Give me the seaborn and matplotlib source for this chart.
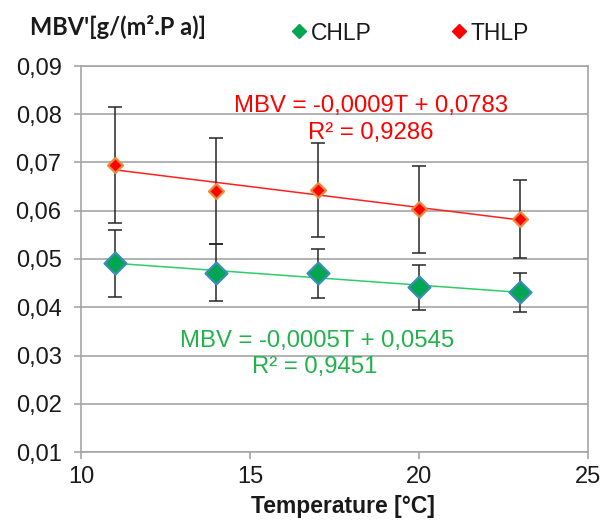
import matplotlib
matplotlib.use("Agg")
import matplotlib.pyplot as plt
from matplotlib.lines import Line2D
import seaborn as sns
import pandas as pd

# Measurements: moisture buffer value vs temperature
temperature = [11, 14, 17, 20, 23]
chlp_mbv = [0.0491, 0.0472, 0.0470, 0.0441, 0.0431]
chlp_err = [0.0070, 0.0059, 0.0050, 0.0046, 0.0040]
thlp_mbv = [0.0694, 0.0641, 0.0643, 0.0603, 0.0583]
thlp_err = [0.0120, 0.0110, 0.0098, 0.0090, 0.0080]

series_names = ["CHLP", "THLP"]
eq_labels = {
    "CHLP": ["MBV = -0,0005T + 0,0545", "R\u00b2 = 0,9451"],
    "THLP": ["MBV = -0,0009T + 0,0783", "R\u00b2 = 0,9286"],
}
x_ticks = [10, 15, 20, 25]
y_ticks = [0.01, 0.02, 0.03, 0.04, 0.05, 0.06, 0.07, 0.08, 0.09]
y_tick_labels = ["0,01", "0,02", "0,03", "0,04", "0,05", "0,06", "0,07", "0,08", "0,09"]

df = pd.DataFrame({
    "T": temperature * 2,
    "MBV": chlp_mbv + thlp_mbv,
    "err": chlp_err + thlp_err,
    "series": ["CHLP"] * 5 + ["THLP"] * 5,
})

sns.set_theme(style="white")
plt.rcParams["font.family"] = ["Liberation Sans", "DejaVu Sans"]

W, H = 601, 520
fig = plt.figure(figsize=(W / 100, H / 100), dpi=100)
ax = fig.add_axes([81 / W, (H - 452) / H, 507 / W, 386 / H])

grid_c = "#a6a6a6"
text_c = "#1a1a1a"
fill = {"CHLP": "#00a650", "THLP": "#ff0000"}
edge = {"CHLP": "#3b8db8", "THLP": "#e8893a"}
trend_c = {"CHLP": "#2fcc6a", "THLP": "#ff2020"}
msize = {"CHLP": 125, "THLP": 58}
ebar_c = "#262626"

for name in series_names:
    sub = df[df["series"] == name]
    sns.regplot(data=sub, x="T", y="MBV", ax=ax, ci=None, scatter=False,
                truncate=True,
                line_kws={"color": trend_c[name], "lw": 1.1, "zorder": 2})
    ax.errorbar(sub["T"], sub["MBV"], yerr=sub["err"], fmt="none",
                ecolor=ebar_c, elinewidth=1.1, capsize=4.8, capthick=1.1,
                zorder=3)
    sns.scatterplot(data=sub, x="T", y="MBV", ax=ax, marker="D",
                    s=msize[name], color=fill[name], edgecolor=edge[name],
                    linewidth=1.6, zorder=4, legend=False)

ax.set_xlim(10, 25)
ax.set_ylim(0.01, 0.09)
ax.set_xticks(x_ticks)
ax.set_xticklabels([str(t) for t in x_ticks])
ax.set_yticks(y_ticks)
ax.set_yticklabels(y_tick_labels)
ax.yaxis.grid(True, color=grid_c, lw=1.2)
ax.set_axisbelow(True)
for s in ["left", "right", "top", "bottom"]:
    ax.spines[s].set_color(grid_c)
    ax.spines[s].set_linewidth(1.2)
ax.tick_params(axis="both", which="both", direction="out", length=5,
               color=grid_c, width=1.2, labelsize=17, labelcolor=text_c,
               left=True, bottom=True)
ax.tick_params(axis="y", pad=9)
ax.tick_params(axis="x", pad=5)
ax.set_ylabel("")
ax.set_xlabel("Temperature [\u00b0C]", fontsize=16.5, fontweight="bold",
              color=text_c)
ax.xaxis.set_label_coords(0.517, -0.157)
ax.xaxis.label.set_verticalalignment("baseline")

# Trendline equations
eq_pos = {"THLP": [(18.58, 0.0818), (18.58, 0.0762)],
          "CHLP": [(17.0, 0.0331), (16.92, 0.0276)]}
eq_color = {"THLP": "#ff0000", "CHLP": "#22b24c"}
for name in series_names:
    for (x, y), txt in zip(eq_pos[name], eq_labels[name]):
        ax.text(x, y, txt, color=eq_color[name], fontsize=17.2,
                ha="center", va="center")

# Axis title and legend in the header row
fig.text(30 / W, 1 - 35 / H, "MBV'[g/(m\u00b2.P a)]", fontsize=17,
         fontweight="bold", color=text_c, ha="left", va="baseline",
         family=["Lato", "DejaVu Sans"])
handles = [Line2D([], [], ls="none", marker="D", markersize=7,
                  markerfacecolor=fill[n], markeredgecolor=fill[n], label=n)
           for n in series_names]
fig.legend(handles=handles, loc="center left", ncol=2, frameon=False,
           bbox_to_anchor=(290 / W, 1 - 33 / H), fontsize=16.5,
           handlelength=0.8, handletextpad=0.1, columnspacing=3.4,
           borderaxespad=0, borderpad=0, labelcolor=text_c)

fig.savefig("out.png", dpi=100)
